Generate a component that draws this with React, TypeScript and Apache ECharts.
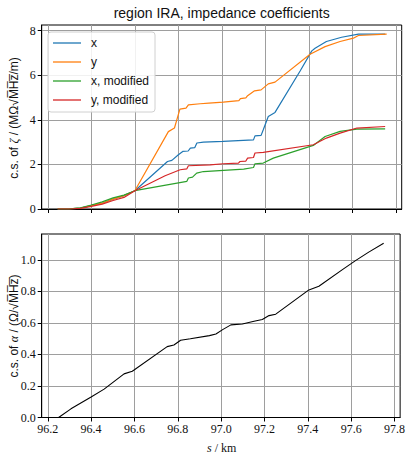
import React, { useEffect, useRef } from "react";
import * as echarts from "echarts";

// ---- data ----
const sX = [96.245, 96.3, 96.35, 96.4, 96.45, 96.5, 96.55, 96.6, 96.75, 96.77, 96.8, 96.82, 96.845, 96.855, 96.875, 96.885, 96.915, 97.005, 97.145, 97.152, 97.18, 97.19, 97.213, 97.244, 97.36, 97.413, 97.428, 97.48, 97.55, 97.627, 97.75];
const zetaX = [0, 0.01, 0.04, 0.15, 0.26, 0.44, 0.6, 0.82, 2.13, 2.18, 2.43, 2.58, 2.6, 2.73, 2.75, 2.96, 3.0, 3.03, 3.1, 3.28, 3.3, 3.55, 4.15, 4.33, 6.2, 7.09, 7.21, 7.51, 7.7, 7.84, 7.84];

const sY = [96.245, 96.3, 96.35, 96.4, 96.45, 96.5, 96.55, 96.6, 96.754, 96.782, 96.807, 96.835, 96.846, 96.9, 96.94, 97.006, 97.078, 97.085, 97.11, 97.118, 97.15, 97.18, 97.213, 97.244, 97.405, 97.474, 97.543, 97.604, 97.627, 97.757];
const zetaY = [0, 0.01, 0.04, 0.15, 0.26, 0.44, 0.6, 0.82, 3.47, 3.63, 4.48, 4.52, 4.67, 4.72, 4.75, 4.79, 4.86, 4.95, 4.98, 5.08, 5.3, 5.34, 5.61, 5.69, 6.94, 7.28, 7.51, 7.66, 7.78, 7.84];

const sXMod = [96.245, 96.3, 96.35, 96.4, 96.45, 96.5, 96.55, 96.6, 96.839, 96.846, 96.865, 96.884, 96.915, 97.1, 97.145, 97.152, 97.19, 97.236, 97.42, 97.474, 97.543, 97.62, 97.75];
const zetaXMod = [0, 0.01, 0.05, 0.18, 0.32, 0.5, 0.62, 0.82, 1.24, 1.39, 1.43, 1.61, 1.68, 1.79, 1.86, 2.03, 2.06, 2.28, 2.85, 3.25, 3.48, 3.58, 3.59];

const sYMod = [96.245, 96.3, 96.35, 96.4, 96.45, 96.5, 96.55, 96.6, 96.739, 96.808, 96.839, 96.846, 96.946, 97.006, 97.076, 97.083, 97.11, 97.118, 97.145, 97.152, 97.19, 97.42, 97.48, 97.543, 97.62, 97.75];
const zetaYMod = [0, 0.0, 0.03, 0.12, 0.22, 0.38, 0.52, 0.82, 1.49, 1.76, 1.8, 1.94, 1.98, 2.03, 2.06, 2.13, 2.15, 2.28, 2.31, 2.51, 2.54, 2.88, 3.18, 3.4, 3.63, 3.7];

const sAlpha = [96.25, 96.307, 96.4, 96.46, 96.552, 96.59, 96.751, 96.782, 96.813, 96.858, 96.946, 96.976, 97.007, 97.045, 97.098, 97.152, 97.19, 97.221, 97.252, 97.405, 97.451, 97.558, 97.62, 97.681, 97.75];
const alpha = [0, 0.055, 0.13, 0.18, 0.277, 0.294, 0.45, 0.46, 0.49, 0.5, 0.52, 0.53, 0.558, 0.588, 0.594, 0.611, 0.622, 0.647, 0.656, 0.81, 0.833, 0.937, 0.996, 1.05, 1.106];

const seriesNames = ["x", "y", "x, modified", "y, modified"];
const xTicks = [96.2, 96.4, 96.6, 96.8, 97.0, 97.2, 97.4, 97.6, 97.8];
const zetaTicks = [0, 2, 4, 6, 8];
const alphaTicks = [0, 0.2, 0.4, 0.6, 0.8, 1.0];

const pairs = (s: number[], v: number[]) => s.map((x, i) => [x, v[i]]);

const SERIF = "Liberation Serif";
const SANS = "Liberation Sans";
const GRID_COLOR = "#9e9e9e";

export default function App() {
  const ref = useRef<HTMLDivElement>(null);
  useEffect(() => {
    if (!ref.current) return;
    const chart = echarts.init(ref.current, undefined, { renderer: "svg" });

    const xAxisBase = (gridIndex: number, showLabels: boolean) => ({
      type: "value",
      gridIndex,
      min: 96.172,
      max: 97.826,
      axisLine: { show: true, lineStyle: { color: "#000", width: 1 } },
      axisTick: { show: true, inside: false, length: 4, customValues: xTicks, lineStyle: { color: "#000" } },
      axisLabel: {
        show: showLabels,
        customValues: xTicks,
        margin: 5,
        color: "#111",
        fontFamily: SERIF,
        fontSize: 12,
        formatter: (v: number) => v.toFixed(1),
      },
      splitLine: { show: true, lineStyle: { color: GRID_COLOR, width: 1 } },
    });

    const yAxisBase = (gridIndex: number, max: number, ticks: number[], digits: number) => ({
      type: "value",
      gridIndex,
      min: 0,
      max,
      axisLine: { show: true, lineStyle: { color: "#000", width: 1 } },
      axisTick: { show: true, inside: false, length: 4, customValues: ticks, lineStyle: { color: "#000" } },
      axisLabel: {
        customValues: ticks,
        margin: 6,
        color: "#111",
        fontFamily: SERIF,
        fontSize: 12,
        formatter: (v: number) => v.toFixed(digits),
      },
      splitLine: { show: true, lineStyle: { color: GRID_COLOR, width: 1 } },
    });

    const colors = ["#1f77b4", "#ff7f0e", "#2ca02c", "#d62728"];
    const topData = [pairs(sX, zetaX), pairs(sY, zetaY), pairs(sXMod, zetaXMod), pairs(sYMod, zetaYMod)];

    const option: any = {
      animation: false,
      grid: [
        { left: 41.7, top: 25, width: 360, height: 184, show: true, borderColor: "#000", borderWidth: 1, backgroundColor: "transparent" },
        { left: 41.7, top: 234, width: 360, height: 183.5, show: true, borderColor: "#000", borderWidth: 1, backgroundColor: "transparent" },
      ],
      xAxis: [xAxisBase(0, false), xAxisBase(1, true)],
      yAxis: [yAxisBase(0, 8.25, zetaTicks, 0), yAxisBase(1, 1.165, alphaTicks, 1)],
      legend: {
        data: seriesNames.map((name) => ({ name, icon: "rect" })),
        orient: "vertical",
        left: 48,
        top: 32,
        itemWidth: 28,
        itemHeight: 1.3,
        itemGap: 5,
        padding: [4, 6, 5, 5],
        backgroundColor: "rgba(255,255,255,0.85)",
        borderColor: "#d0d0d0",
        borderWidth: 1,
        borderRadius: 3,
        textStyle: { fontFamily: SANS, fontSize: 12, color: "#111", padding: [0, 0, 0, 5], lineHeight: 14 },
      },
      series: [
        ...seriesNames.map((name, i) => ({
          name,
          type: "line",
          xAxisIndex: 0,
          yAxisIndex: 0,
          data: topData[i],
          symbol: "none",
          showSymbol: false,
          lineStyle: { color: colors[i], width: 1.2 },
          itemStyle: { color: colors[i] },
        })),
        {
          name: "alpha",
          type: "line",
          xAxisIndex: 1,
          yAxisIndex: 1,
          data: pairs(sAlpha, alpha),
          symbol: "none",
          showSymbol: false,
          lineStyle: { color: "#000", width: 1.1 },
          itemStyle: { color: "#000" },
        },
      ],
      graphic: [
        {
          type: "text",
          x: 221.7,
          y: 13,
          style: {
            text: "region IRA, impedance coefficients",
            fontFamily: SANS,
            fontSize: 14,
            fill: "#111",
            textAlign: "center",
            textVerticalAlign: "middle",
          },
        },
        {
          type: "text",
          x: 14,
          y: 118,
          rotation: Math.PI / 2,
          style: {
            text: "c.s. of {i|ζ} / (MΩ√M\u0305H\u0305z\u0305/m)",
            fontFamily: SANS,
            fontSize: 12,
            fill: "#111",
            textAlign: "center",
            textVerticalAlign: "middle",
            rich: { i: { fontFamily: SERIF, fontStyle: "italic", fontSize: 12, fill: "#111" } },
          },
        },
        {
          type: "text",
          x: 14,
          y: 326,
          rotation: Math.PI / 2,
          style: {
            text: "c.s. of {i|α} / (Ω/√M\u0305H\u0305z\u0305)",
            fontFamily: SANS,
            fontSize: 12,
            fill: "#111",
            textAlign: "center",
            textVerticalAlign: "middle",
            rich: { i: { fontFamily: SERIF, fontStyle: "italic", fontSize: 12, fill: "#111" } },
          },
        },
        {
          type: "text",
          x: 221.7,
          y: 448,
          style: {
            text: "{i|s} / km",
            fontFamily: SERIF,
            fontSize: 12,
            fill: "#111",
            textAlign: "center",
            textVerticalAlign: "middle",
            rich: { i: { fontFamily: SERIF, fontStyle: "italic", fontSize: 12, fill: "#111" } },
          },
        },
      ],
    };
    chart.setOption(option);
    return () => chart.dispose();
  }, []);
  return <div ref={ref} style={{ width: 408, height: 456, position: "absolute", left: 0, top: 0 }} />;
}
